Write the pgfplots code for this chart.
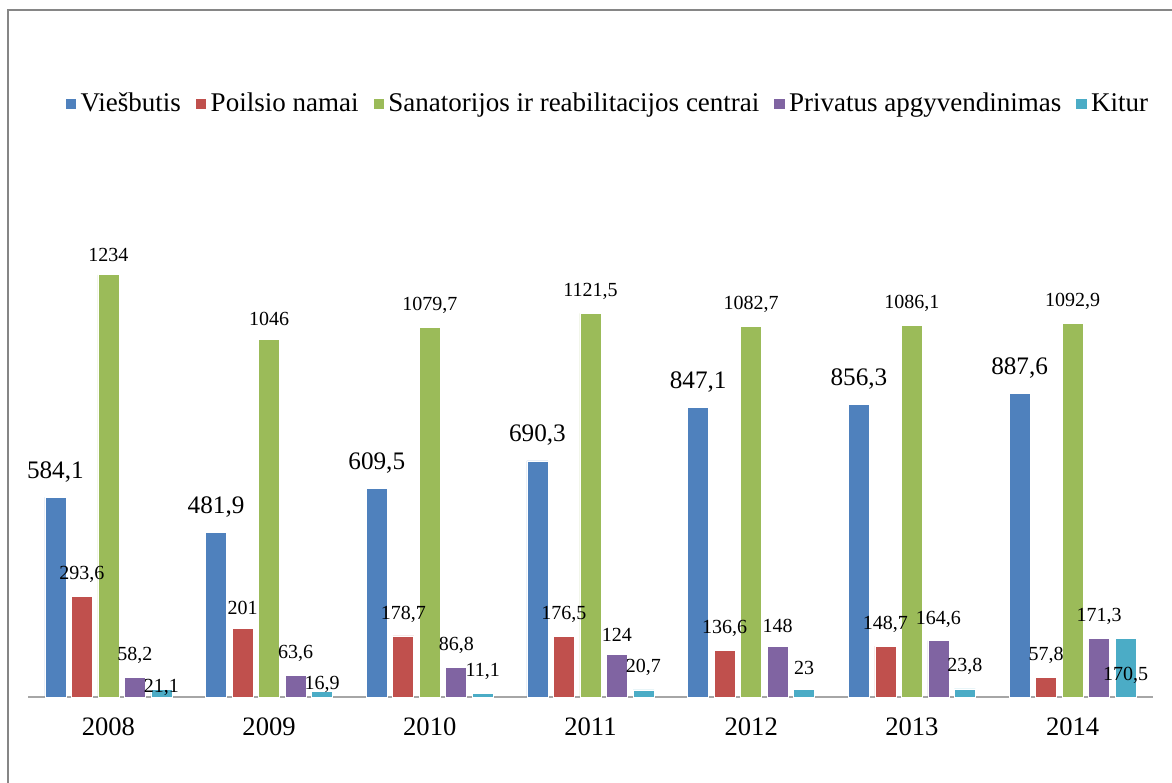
\documentclass[border=0pt]{standalone}
\usepackage{pgfplots}
\usepackage{pgfplotstable}
\pgfplotsset{compat=1.18}
\usepackage{fontspec}
\setmainfont{Liberation Serif}
\definecolor{cBlue}{HTML}{4F81BD}
\definecolor{cRed}{HTML}{C0504D}
\definecolor{cGreen}{HTML}{9BBB59}
\definecolor{cPurple}{HTML}{8064A2}
\definecolor{cCyan}{HTML}{4BACC6}
\definecolor{Frame}{HTML}{868686}

\pgfplotstableread{
x y
0 584.1
1 481.9
2 609.5
3 690.3
4 847.1
5 856.3
6 887.6
}\viesbutis
\pgfplotstableread{
x y
0 293.6
1 201
2 178.7
3 176.5
4 136.6
5 148.7
6 57.8
}\poilsio
\pgfplotstableread{
x y
0 1234
1 1046
2 1079.7
3 1121.5
4 1082.7
5 1086.1
6 1092.9
}\sanatorijos
\pgfplotstableread{
x y
0 58.2
1 63.6
2 86.8
3 124
4 148
5 164.6
6 171.3
}\privatus
\pgfplotstableread{
x y dy
0 21.1 -6.3
1 16.9 -4.3
2 11.1 3.5
3 20.7 3.5
4 23 3.5
5 23.8 3.5
6 170.5 -25.8
}\kitur

\begin{document}
\begin{tikzpicture}
\begin{axis}[
    at={(14pt,42.5pt)}, anchor=south west,
    scale only axis, width=562.5pt, height=239.5pt,
    xmin=-0.5, xmax=6.5, ymin=0, ymax=1400,
    axis y line=none, axis x line*=bottom,
    axis line style={-, draw=black!35, line width=0.8pt},
    xtick={0,...,6}, xticklabels={2008,2009,2010,2011,2012,2013,2014},
    ytick=\empty, major tick length=0pt,
    x tick label style={font=\fontsize{13.3}{15}\selectfont, yshift=-7pt},
    ybar=2.75pt, bar width=10.5pt,
    nodes near coords,
    every node near coord/.append style={font=\fontsize{10}{12}\selectfont, text=black},
    /pgf/number format/use comma,
    /pgf/number format/fixed,
    /pgf/number format/precision=1,
    /pgf/number format/1000 sep={},
    /pgf/number format/assume math mode=true,
    legend columns=-1,
    legend style={at={(0.516,1.238)}, anchor=center, draw=none, fill=none,
        font=\fontsize{13.5}{16}\selectfont,
        /tikz/every even column/.append style={column sep=5pt}},
    legend image code/.code={\fill[#1] (0pt,-2.9pt) rectangle (5.6pt,2.9pt);},
]
\addplot[fill=cBlue, draw=white, line width=0.3pt,
    every node near coord/.append style={font=\fontsize{12.6}{14}\selectfont, yshift=4pt}]
    table[x=x, y=y] {\viesbutis};
\addplot[fill=cRed, draw=white, line width=0.3pt,
    every node near coord/.append style={yshift=3.3pt}]
    table[x=x, y=y] {\poilsio};
\addplot[fill=cGreen, draw=white, line width=0.3pt,
    every node near coord/.append style={yshift=3.3pt}]
    table[x=x, y=y] {\sanatorijos};
\addplot[fill=cPurple, draw=white, line width=0.3pt,
    every node near coord/.append style={yshift=3.3pt}]
    table[x=x, y=y] {\privatus};
\addplot[fill=cCyan, draw=white, line width=0.3pt,
    visualization depends on={\thisrow{dy}\as\dy},
    every node near coord/.append style={yshift=\dy}]
    table[x=x, y=y] {\kitur};
\legend{Viešbutis, Poilsio namai, Sanatorijos ir reabilitacijos centrai, Privatus apgyvendinimas, Kitur}
\end{axis}
\draw[Frame, line width=1pt] (4pt,-20pt) -- (4pt,386pt) -- (620pt,386pt);
\pgfresetboundingbox
\path[use as bounding box] (0pt,0pt) rectangle (586pt,391pt);
\end{tikzpicture}
\end{document}
